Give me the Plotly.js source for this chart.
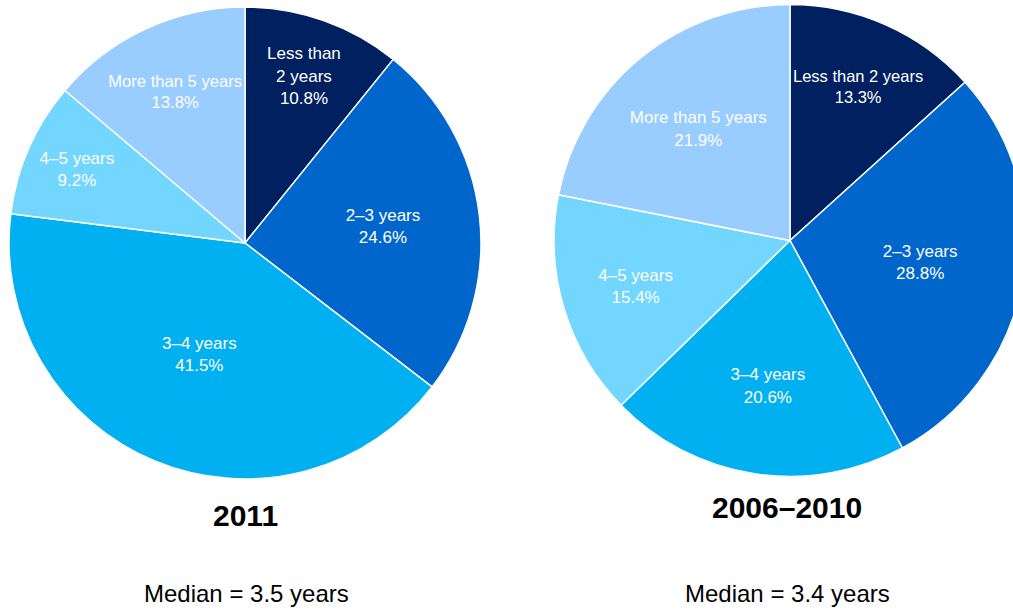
<!DOCTYPE html>
<html>
<head>
<meta charset="utf-8">
<script src="https://cdn.plot.ly/plotly-3.0.1.min.js"></script>
<style>
html, body { margin: 0; padding: 0; overflow: hidden; background: #ffffff; }
#chart { width: 1040px; height: 609px; }
</style>
</head>
<body>
<div id="chart"></div>
<script>
// Data
const categories = ['Less than 2 years', '2–3 years', '3–4 years', '4–5 years', 'More than 5 years'];
const labels2011 = ['Less than<br>2 years', '2–3 years', '3–4 years', '4–5 years', 'More than 5 years'];
const labels0610 = ['Less than 2 years', '2–3 years', '3–4 years', '4–5 years', 'More than 5 years'];
const values2011 = [10.8, 24.6, 41.5, 9.2, 13.8];
const values0610 = [13.3, 28.8, 20.6, 15.4, 21.9];
const titles = ['2011', '2006–2010'];
const medians = ['Median = 3.5 years', 'Median = 3.4 years'];

const colors = ['#002060', '#0066cc', '#00b0f0', '#72d6ff', '#99ccff'];
const font = 'Liberation Sans, Arial, sans-serif';

function pie(values, txt, domain) {
  return {
    type: 'pie',
    labels: categories,
    values: values,
    text: txt,
    texttemplate: '%{text}<br>%{value:.1f}%',
    textposition: 'inside',
    insidetextorientation: 'horizontal',
    sort: false,
    direction: 'clockwise',
    rotation: 0,
    marker: { colors: colors, line: { color: '#ffffff', width: 1.5 } },
    insidetextfont: { family: font, size: 17, color: '#ffffff' },
    hoverinfo: 'label+value',
    showlegend: false,
    domain: domain
  };
}

const data = [
  pie(values2011, labels2011, { x: [0.00865, 0.4625], y: [0.2135, 0.9885] }),
  pie(values0610, labels0610, { x: [0.5327, 0.9865], y: [0.2176, 0.9926] })
];

const layout = {
  width: 1040,
  height: 609,
  margin: { l: 0, r: 0, t: 0, b: 0 },
  paper_bgcolor: '#ffffff',
  plot_bgcolor: '#ffffff',
  annotations: [
    { text: '<b>' + titles[0] + '</b>', x: 245 / 1040, y: 1 - 515 / 609, xref: 'paper', yref: 'paper', showarrow: false, xanchor: 'center', yanchor: 'middle', font: { family: font, size: 30, color: '#000000' } },
    { text: '<b>' + titles[1] + '</b>', x: 787 / 1040, y: 1 - 507 / 609, xref: 'paper', yref: 'paper', showarrow: false, xanchor: 'center', yanchor: 'middle', font: { family: font, size: 30, color: '#000000' } },
    { text: medians[0], x: 246 / 1040, y: 1 - 593 / 609, xref: 'paper', yref: 'paper', showarrow: false, xanchor: 'center', yanchor: 'middle', font: { family: font, size: 24, color: '#000000' } },
    { text: medians[1], x: 787 / 1040, y: 1 - 593 / 609, xref: 'paper', yref: 'paper', showarrow: false, xanchor: 'center', yanchor: 'middle', font: { family: font, size: 24, color: '#000000' } }
  ]
};

Plotly.newPlot('chart', data, layout, { displayModeBar: false, staticPlot: true });
</script>
</body>
</html>
